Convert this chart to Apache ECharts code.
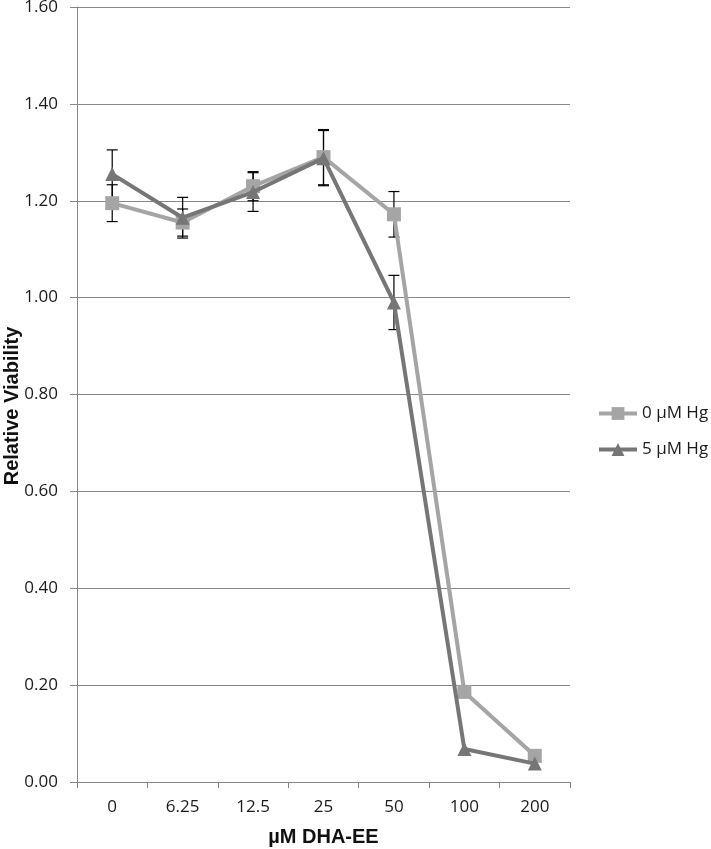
<!DOCTYPE html>
<html><head><meta charset="utf-8">
<script src="https://cdn.jsdelivr.net/npm/echarts@6/dist/echarts.min.js"></script>
<style>html,body{margin:0;padding:0;background:#fff}#c{width:711px;height:849px}</style>
</head><body><div id="c"></div>
<script>
const categories = ['0','6.25','12.5','25','50','100','200'];
const hg0 = [1.195, 1.155, 1.230, 1.290, 1.172, 0.186, 0.054];
const hg0Err = [0.038, 0.028, 0.030, 0.057, 0.047, 0, 0];
const hg5 = [1.255, 1.165, 1.218, 1.288, 0.990, 0.068, 0.038];
const hg5Err = [0.050, 0.042, 0.040, 0.057, 0.056, 0, 0];
const yTicks = [0, 0.2, 0.4, 0.6, 0.8, 1.0, 1.2, 1.4, 1.6];

const font = '"Open Sans", "Liberation Sans", sans-serif';
const boldFont = '"Liberation Sans", Arial, sans-serif';
function errSeries(vals, errs) {
  return {
    type: 'custom',
    z: 1,
    silent: true,
    data: vals.map((v, i) => [i, v - errs[i], v + errs[i]]),
    renderItem: function (params, api) {
      if (api.value(2) === api.value(1)) return null;
      const lo = api.coord([api.value(0), api.value(1)]);
      const hi = api.coord([api.value(0), api.value(2)]);
      const w = 5.5;
      const st = { stroke: '#000', lineWidth: 1.2 };
      return { type: 'group', children: [
        { type: 'line', shape: { x1: lo[0], y1: lo[1], x2: hi[0], y2: hi[1] }, style: st },
        { type: 'line', shape: { x1: lo[0]-w, y1: lo[1], x2: lo[0]+w, y2: lo[1] }, style: st },
        { type: 'line', shape: { x1: hi[0]-w, y1: hi[1], x2: hi[0]+w, y2: hi[1] }, style: st }
      ]};
    }
  };
}
const chart = echarts.init(document.getElementById('c'));
chart.setOption({
  animation: false,
  backgroundColor: '#fff',
  grid: { left: 77, right: 141, top: 7, bottom: 67, outerBoundsMode: 'none', containLabel: false },
  legend: {
    orient: 'vertical', left: 597, top: 405, padding: 0, itemGap: 19, itemWidth: 38, itemHeight: 16,
    lineStyle: { width: 4 },
    textStyle: { fontFamily: font, fontSize: 17, color: '#1a1a1a', lineHeight: 16 },
    data: ['0 µM Hg', '5 µM Hg']
  },
  graphic: [{
    type: 'text', x: 12, y: 406, rotation: Math.PI / 2,
    style: { text: 'Relative Viability', fontFamily: boldFont, fontSize: 20, fontWeight: 'bold',
      fill: '#111', align: 'center', verticalAlign: 'middle' }
  }],
  xAxis: {
    type: 'category', data: categories, boundaryGap: true,
    name: 'µM DHA-EE', nameLocation: 'middle', nameGap: 45,
    nameTextStyle: { fontFamily: boldFont, fontSize: 20, fontWeight: 'bold', color: '#111' },
    axisLine: { lineStyle: { color: '#868686', width: 1 } },
    axisTick: { show: true, length: 6, lineStyle: { color: '#868686' } },
    axisLabel: { fontFamily: font, fontSize: 17, color: '#1a1a1a', margin: 17 }
  },
  yAxis: {
    type: 'value', min: 0, max: 1.6, interval: 0.2,
    axisLine: { show: true, lineStyle: { color: '#868686' } },
    axisTick: { show: true, length: 7, lineStyle: { color: '#868686' } },
    axisLabel: { fontFamily: font, fontSize: 17, color: '#1a1a1a', margin: 19,
      formatter: v => v.toFixed(2) },
    splitLine: { lineStyle: { color: '#868686', width: 1 } }
  },
  series: [
    errSeries(hg0, hg0Err),
    errSeries(hg5, hg5Err),
    { name: '0 µM Hg', type: 'line', data: hg0, z: 3, symbol: 'rect', symbolSize: 14,
      lineStyle: { color: '#a5a5a5', width: 4 }, itemStyle: { color: '#a5a5a5' } },
    { name: '5 µM Hg', type: 'line', data: hg5, z: 4, symbol: 'triangle', symbolSize: 14,
      lineStyle: { color: '#767676', width: 4 }, itemStyle: { color: '#767676' } }
  ]
});
</script></body></html>
